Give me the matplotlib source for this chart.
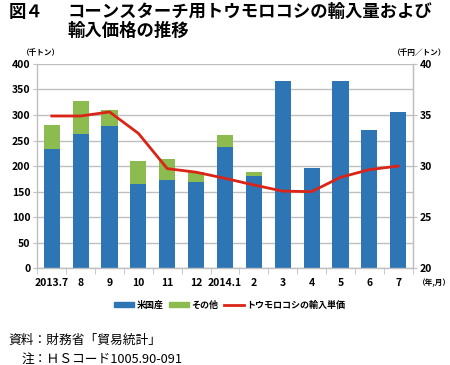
import matplotlib
matplotlib.use("Agg")
import matplotlib.pyplot as plt
import numpy as np
from matplotlib.patches import Patch
from matplotlib.lines import Line2D

plt.rcParams['font.family'] = ['Noto Sans CJK JP', 'DejaVu Sans']

# データ
months = ["2013.7", "8", "9", "10", "11", "12", "2014.1", "2", "3", "4", "5", "6", "7"]
us_vol = [233, 263, 279, 164, 172, 168, 237, 181, 366, 196, 367, 270, 306]
other_vol = [47, 65, 30, 45, 42, 20, 23, 8, 0, 0, 0, 0, 0]
unit_price = [34.9, 34.9, 35.3, 33.2, 29.75, 29.4, 28.8, 28.15, 27.55, 27.5, 28.9, 29.65, 30.0]

BLUE = "#2E75B6"
GREEN = "#8CBB4F"
RED = "#DA2418"
GRID = "#BFBFBF"

fig = plt.figure(figsize=(4.5, 3.65), dpi=100)
ax = fig.add_axes([0.083, 0.265, 0.834, 0.56])
x = np.arange(len(months))

ax.bar(x, us_vol, width=0.56, color=BLUE, zorder=2)
ax.bar(x, other_vol, width=0.56, bottom=us_vol, color=GREEN, zorder=2)
ax.set_ylim(0, 400)
ax.set_xlim(-0.5, len(months) - 0.5)
ax.set_yticks(range(0, 401, 50))
ax.yaxis.grid(True, color=GRID, linewidth=1, zorder=0)
ax.set_axisbelow(True)

ax.set_xticks(x)
ax.set_xticklabels(months)
ax.set_xticks(np.arange(-0.5, len(months), 1), minor=True)
ax.tick_params(axis='x', which='major', length=0, pad=7, labelsize=7.5)
ax.tick_params(axis='x', which='minor', length=4, color=GRID, direction='out')
ax.tick_params(axis='y', length=3, color=GRID, labelsize=7.5, pad=2)
for lab in ax.get_xticklabels() + ax.get_yticklabels():
    lab.set_fontweight('bold')

ax.spines['top'].set_visible(False)
for s in ['left', 'right', 'bottom']:
    ax.spines[s].set_color(GRID)
    ax.spines[s].set_linewidth(1)

ax2 = ax.twinx()
ax2.plot(x, unit_price, color=RED, linewidth=2, zorder=3)
ax2.set_ylim(20, 40)
ax2.set_yticks(range(20, 41, 5))
ax2.tick_params(axis='y', length=3, color=GRID, labelsize=7.5, pad=2)
for lab in ax2.get_yticklabels():
    lab.set_fontweight('bold')
for s in ['top', 'left', 'bottom']:
    ax2.spines[s].set_visible(False)
ax2.spines['right'].set_color(GRID)

# タイトル
fig.text(9 / 450, 1 - 12 / 365, "図４", fontsize=12.5, fontweight='bold', va='center')
fig.text(67 / 450, 1 - 12 / 365, "コーンスターチ用トウモロコシの輸入量および",
         fontsize=12.5, fontweight='bold', va='center')
fig.text(67 / 450, 1 - 31 / 365, "輸入価格の推移", fontsize=12.5, fontweight='bold', va='center')

fig.text(22 / 450, 1 - 52 / 365, "（千トン）", fontsize=5.5, fontweight='bold', va='center')
fig.text(446 / 450, 1 - 52 / 365, "（千円／トン）", fontsize=5.5, fontweight='bold',
         va='center', ha='right')
fig.text(418 / 450, 1 - 283 / 365, "（年,月）", fontsize=5.5, fontweight='bold', va='center')

handles = [Patch(color=BLUE), Patch(color=GREEN), Line2D([], [], color=RED, linewidth=2)]
labels = ["米国産", "その他", "トウモロコシの輸入単価"]
fig.legend(handles, labels, loc='center', bbox_to_anchor=(0.51, 1 - 305 / 365), ncol=3,
           frameon=False, handlelength=2.3, handleheight=0.6,
           handletextpad=0.2, columnspacing=0.6, prop={'weight': 'bold', 'size': 6.5})

fig.text(8 / 450, 1 - 340 / 365, "資料：財務省「貿易統計」", fontsize=9.2, va='center')
fig.text(22 / 450, 1 - 359 / 365, "注：ＨＳコード1005.90-091", fontsize=9.2, va='center')

fig.savefig("out.png", dpi=100)
